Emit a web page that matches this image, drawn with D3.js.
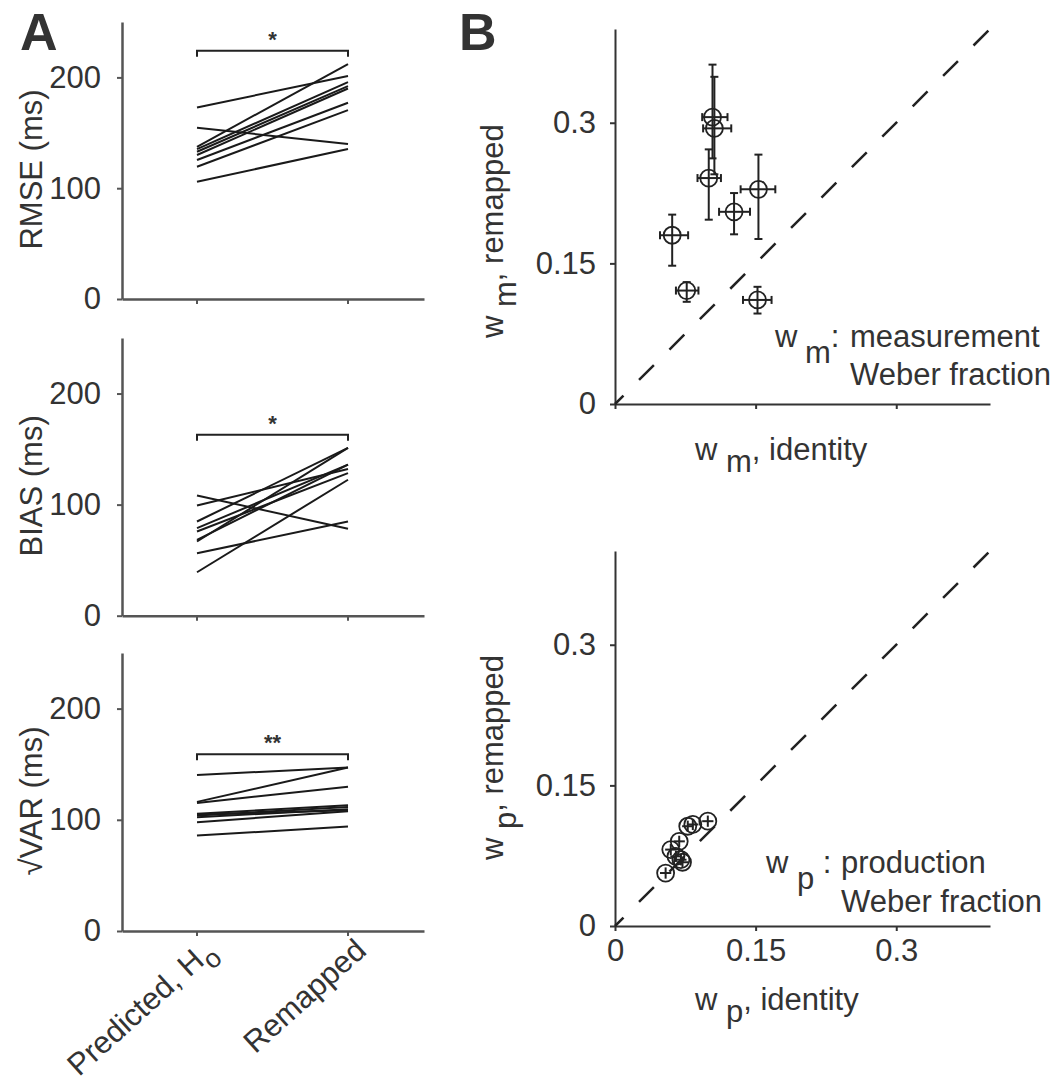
<!DOCTYPE html>
<html><head><meta charset="utf-8">
<script src="https://cdn.jsdelivr.net/npm/d3@7"></script>
<style>
body{margin:0;background:#fff}
text{font-family:"Liberation Sans",Arial,Helvetica,sans-serif;fill:#333}
</style>
</head><body>
<svg id="c" width="1061" height="1084"></svg>
<script>
// ---------- DATA ----------
const conditions = ["Predicted, H", "Remapped"];
const conditionSubs = ["o", ""];
const msTicks = [0, 100, 200];
const wTicks = [0, 0.15, 0.3];
const wTickLabels = ["0", "0.15", "0.3"];

const rmsePred  = [172.9, 154.6, 105.9, 137.4, 135.3, 132.9, 125.4, 119.4, 130.0];
const rmseRemap = [201.2, 139.8, 135.3, 212.0, 195.8, 192.2, 177.1, 170.5, 190.0];
const biasPred  = [108.3, 99.2, 84.8, 78.8, 75.8, 68.3, 66.8, 56.2, 39.1];
const biasRemap = [78.2, 132.0, 151.0, 136.0, 128.4, 136.0, 151.0, 84.8, 122.4];
const varPred   = [140.3, 116.1, 115.2, 105.5, 103.9, 102.4, 97.9, 85.8, 104.7];
const varRemap  = [147.0, 147.0, 129.7, 113.0, 111.5, 109.4, 107.6, 93.9, 108.5];
const sigLabels = ["*", "*", "**"];
const sigLevels = [224, 163, 159];

// w_m: identity (x) vs remapped (y) with error bar limits
const wmId     = [0.104, 0.106, 0.100, 0.153, 0.127, 0.061, 0.0765, 0.152];
const wmIdLo   = [0.093, 0.094, 0.088, 0.134, 0.111, 0.048, 0.065, 0.1365];
const wmIdHi   = [0.120, 0.124, 0.113, 0.171, 0.144, 0.078, 0.089, 0.167];
const wmRe     = [0.306, 0.294, 0.241, 0.229, 0.205, 0.180, 0.121, 0.111];
const wmReLo   = [0.262, 0.245, 0.1966, 0.176, 0.181, 0.1475, 0.109, 0.0965];
const wmReHi   = [0.362, 0.349, 0.2716, 0.266, 0.225, 0.202, 0.130, 0.125];

// w_p: identity (x) vs remapped (y)
const wpId     = [0.054, 0.0595, 0.0685, 0.0703, 0.065, 0.0776, 0.083, 0.099, 0.072];
const wpRe     = [0.0565, 0.0815, 0.0903, 0.0707, 0.0743, 0.1064, 0.1083, 0.1118, 0.068];
const wpErr    = [0.006, 0.006, 0.006, 0.006, 0.006, 0.006, 0.006, 0.006, 0.006];

// ---------- DRAW ----------
const svg = d3.select("#c");
const FS = 31;
const dark = "#333";

// Panel A
const xA = d3.scalePoint().domain(conditions).range([197, 348]);
const xAlin = d3.scaleLinear().domain([0.5, 2.5]).range([122, 424]);
const yTops = [[299, 22], [615.7, 338], [931, 653]];
const yLabels = ["RMSE (ms)", "BIAS (ms)", "\u221AVAR (ms)"];
const preds = [rmsePred, biasPred, varPred];
const remaps = [rmseRemap, biasRemap, varRemap];

yTops.forEach((r, i) => {
  const y = d3.scaleLinear().domain([0, 250]).range(r);
  const g = svg.append("g");
  const ay = g.append("g").attr("transform", `translate(${xAlin(0.5)},0)`)
    .call(d3.axisLeft(y).tickValues(msTicks).tickSize(5).tickSizeOuter(0).tickPadding(16));
  const ax = g.append("g").attr("transform", `translate(0,${y(0)})`)
    .call(d3.axisBottom(xAlin).tickValues([]).tickSizeOuter(0));
  g.selectAll(".xt").data(conditions).enter().append("line")
    .attr("x1", d => xA(d)).attr("x2", d => xA(d))
    .attr("y1", y(0)).attr("y2", y(0) + 5).attr("stroke", "#555").attr("stroke-width", 2);
  [ay, ax].forEach(a => {
    a.select(".domain").attr("stroke", "#555").attr("stroke-width", 2.5);
    a.selectAll(".tick line").attr("stroke", "#555").attr("stroke-width", 2);
    a.selectAll(".tick text").attr("font-size", FS).attr("fill", dark)
      .attr("font-family", "Liberation Sans, Arial, sans-serif");
  });
  g.append("text")
    .attr("transform", `translate(42,${(r[0] + r[1]) / 2 + 9}) rotate(-90)`)
    .attr("text-anchor", "middle").attr("font-size", FS).text(yLabels[i]);
  const data = preds[i].map((p, k) => [p, remaps[i][k]]);
  g.selectAll(".ln").data(data).enter().append("line")
    .attr("x1", xA(conditions[0])).attr("x2", xA(conditions[1]))
    .attr("y1", d => y(d[0])).attr("y2", d => y(d[1]))
    .attr("stroke", "#1a1a1a").attr("stroke-width", 2);
  const by = y(sigLevels[i]);
  g.append("path")
    .attr("d", `M${xA(conditions[0])},${by + 6}V${by}H${xA(conditions[1])}V${by + 6}`)
    .attr("fill", "none").attr("stroke", "#222").attr("stroke-width", 2);
  g.append("text").attr("x", (xA(conditions[0]) + xA(conditions[1])) / 2)
    .attr("y", by - 4).attr("text-anchor", "middle").attr("font-size", 22)
    .attr("font-weight", "bold").attr("fill", "#111").text(sigLabels[i]);
  if (i === 2) {
    conditions.forEach((c, k) => {
      const t = g.append("text")
        .attr("transform", `translate(${xA(c) + 20},${y(0) + 22}) rotate(-42)`)
        .attr("text-anchor", "end").attr("font-size", FS);
      t.append("tspan").text(c);
      if (conditionSubs[k]) t.append("tspan").attr("dy", 10).attr("font-size", 27).text(conditionSubs[k]);
    });
  }
});

svg.append("text").attr("x", 20).attr("y", 50).attr("font-size", 52)
  .attr("font-weight", "bold").attr("fill", "#000").text("A");
svg.append("text").attr("x", 459).attr("y", 50).attr("font-size", 52)
  .attr("font-weight", "bold").attr("fill", "#000").text("B");

// Panel B
const xB = d3.scaleLinear().domain([0, 0.4]).range([615, 990]);
const panelsB = [
  {r: [404, 29], sub: "m", showX: false, ann: ["measurement", "Weber fraction"], annY: [347, 385], annX: [775, 805, 850], colonGap: false},
  {r: [926, 551], sub: "p", showX: true, ann: ["production", "Weber fraction"], annY: [873, 912], annX: [766, 797, 841], colonGap: true}
];
const pts = [
  wmId.map((x, k) => ({x, xl: wmIdLo[k], xh: wmIdHi[k], y: wmRe[k], yl: wmReLo[k], yh: wmReHi[k]})),
  wpId.map((x, k) => ({x, xl: x - wpErr[k], xh: x + wpErr[k], y: wpRe[k], yl: wpRe[k] - wpErr[k], yh: wpRe[k] + wpErr[k]}))
];

panelsB.forEach((P, i) => {
  const y = d3.scaleLinear().domain([0, 0.4]).range(P.r);
  const g = svg.append("g");
  const ay = g.append("g").attr("transform", `translate(${xB(0)},0)`)
    .call(d3.axisLeft(y).tickValues(wTicks).tickFormat((d, k) => wTickLabels[k]).tickSize(5).tickSizeOuter(0).tickPadding(14));
  const ax = g.append("g").attr("transform", `translate(0,${y(0)})`)
    .call(d3.axisBottom(xB).tickValues(wTicks).tickFormat((d, k) => P.showX ? wTickLabels[k] : "").tickSize(5).tickSizeOuter(0).tickPadding(8));
  [ay, ax].forEach(a => {
    a.select(".domain").attr("stroke", "#333").attr("stroke-width", 2);
    a.selectAll(".tick line").attr("stroke", "#333").attr("stroke-width", 2);
    a.selectAll(".tick text").attr("font-size", FS).attr("fill", dark)
      .attr("font-family", "Liberation Sans, Arial, sans-serif");
  });
  g.append("line").attr("x1", xB(0)).attr("y1", y(0)).attr("x2", xB(0.4)).attr("y2", y(0.4))
    .attr("stroke", "#222").attr("stroke-width", 2.5)
    .attr("stroke-dasharray", "21,22").attr("stroke-dashoffset", 9);
  const cap = 4;
  const e = g.selectAll(".pt").data(pts[i]).enter().append("g");
  e.append("line").attr("x1", d => xB(d.x)).attr("x2", d => xB(d.x))
    .attr("y1", d => y(d.yl)).attr("y2", d => y(d.yh)).attr("stroke", "#222").attr("stroke-width", 2);
  e.append("line").attr("x1", d => xB(d.xl)).attr("x2", d => xB(d.xh))
    .attr("y1", d => y(d.y)).attr("y2", d => y(d.y)).attr("stroke", "#222").attr("stroke-width", 2);
  if (i === 0) {
    ["yl", "yh"].forEach(k => e.append("line")
      .attr("x1", d => xB(d.x) - cap).attr("x2", d => xB(d.x) + cap)
      .attr("y1", d => y(d[k])).attr("y2", d => y(d[k])).attr("stroke", "#222").attr("stroke-width", 2));
    ["xl", "xh"].forEach(k => e.append("line")
      .attr("x1", d => xB(d[k])).attr("x2", d => xB(d[k]))
      .attr("y1", d => y(d.y) - cap).attr("y2", d => y(d.y) + cap).attr("stroke", "#222").attr("stroke-width", 2));
  }
  e.append("circle").attr("cx", d => xB(d.x)).attr("cy", d => y(d.y)).attr("r", 8.5)
    .attr("fill", "none").attr("stroke", "#222").attr("stroke-width", 1.8);

  const yl = g.append("text")
    .attr("transform", `translate(503,${y(0) - 66}) rotate(-90)`)
    .attr("text-anchor", "start").attr("font-size", FS);
  yl.append("tspan").text("w ");
  yl.append("tspan").attr("dy", 13).text(P.sub);
  yl.append("tspan").attr("dy", -13).text(", remapped");
  const xl = g.append("text").attr("x", 695).attr("y", y(0) + (P.showX ? 84 : 56))
    .attr("font-size", FS);
  xl.append("tspan").text("w ");
  xl.append("tspan").attr("dy", 12).text(P.sub);
  xl.append("tspan").attr("dy", -12).text(", identity");
  const a1 = g.append("text").attr("y", P.annY[0]).attr("font-size", FS);
  a1.append("tspan").attr("x", P.annX[0]).text("w");
  a1.append("tspan").attr("x", P.annX[1]).attr("dy", 16).text(P.sub);
  a1.append("tspan").attr("dy", -16).text(P.colonGap ? " :" : ":");
  a1.append("tspan").attr("x", P.annX[2]).text(P.ann[0]);
  g.append("text").attr("x", P.annX[2]).attr("y", P.annY[1]).attr("font-size", FS).text(P.ann[1]);
});
</script>
</body></html>
